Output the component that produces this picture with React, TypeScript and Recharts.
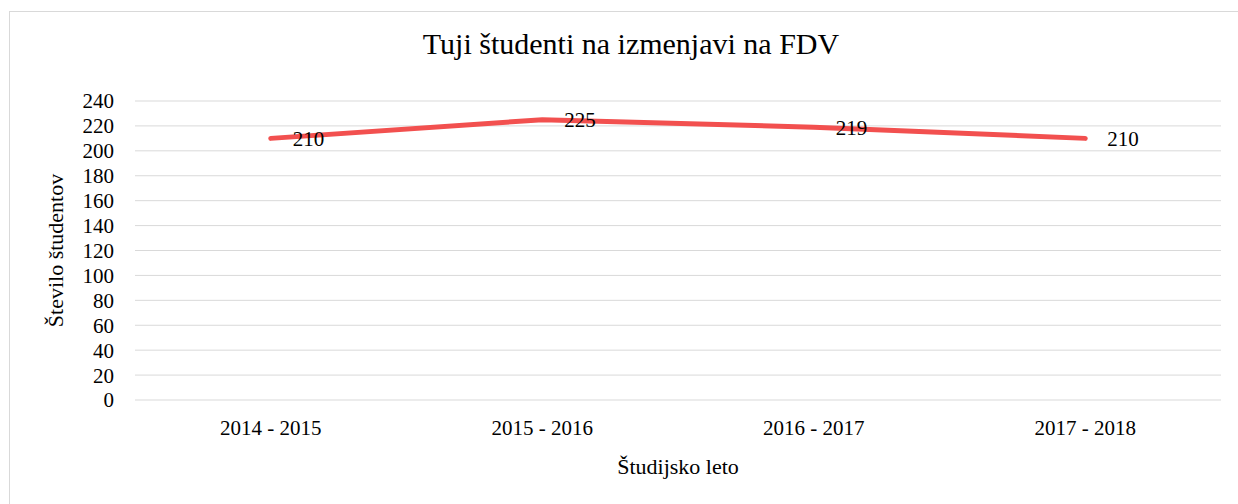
import React from "react"
import { LineChart, Line, XAxis, YAxis, CartesianGrid, LabelList, Label } from "recharts"

const years = ["2014 - 2015", "2015 - 2016", "2016 - 2017", "2017 - 2018"]
const students = [210, 225, 219, 210]
const yTicks = [0, 20, 40, 60, 80, 100, 120, 140, 160, 180, 200, 220, 240]

const data = years.map((year, i) => ({ year, students: students[i] }))

const font = "'Liberation Serif', 'DejaVu Serif', serif"

function RightLabel(props: any) {
  const { x, y, value } = props
  return (
    <text x={x + 22} y={y} dy="0.35em" textAnchor="start" fontSize={21} fill="#000" fontFamily={font}>
      {value}
    </text>
  )
}

export default function App() {
  return (
    <div style={{ position: "fixed", left: 0, top: 0, width: 1238, height: 504, overflow: "hidden", background: "#fff" }}>
      <div
        style={{
          position: "absolute",
          left: 9,
          top: 11,
          width: 1260,
          height: 520,
          border: "1px solid #d9d9d9",
          boxSizing: "border-box",
        }}
      />
      <div
        style={{
          position: "absolute",
          left: 11,
          top: 27,
          width: 1240,
          textAlign: "center",
          fontFamily: font,
          fontSize: 30,
          color: "#000",
        }}
      >
        Tuji študenti na izmenjavi na FDV
      </div>
      <div style={{ position: "absolute", left: 0, top: 0 }}>
        <LineChart width={1238} height={504} data={data} margin={{ top: 101, right: 17, bottom: 0, left: 0 }}>
          <CartesianGrid vertical={false} stroke="#d9d9d9" strokeWidth={1} />
          <XAxis
            dataKey="year"
            axisLine={false}
            tickLine={false}
            tickSize={0}
            tickMargin={20}
            height={104}
            padding={{ left: 135.75, right: 135.75 }}
            tick={{ fontSize: 21, fill: "#000", fontFamily: font }}
          >
            <Label
              value="Študijsko leto"
              position="insideBottom"
              offset={30}
              style={{ fontSize: 22, fill: "#000", fontFamily: font }}
            />
          </XAxis>
          <YAxis
            domain={[0, 240]}
            ticks={yTicks}
            interval={0}
            axisLine={false}
            tickLine={false}
            tickSize={0}
            tickMargin={21}
            width={135}
            tick={{ fontSize: 21, fill: "#000", fontFamily: font }}
          >
            <Label
              value="Število študentov"
              angle={-90}
              position="insideLeft"
              offset={55}
              style={{ fontSize: 22, fill: "#000", fontFamily: font, textAnchor: "middle" }}
            />
          </YAxis>
          <Line
            type="linear"
            dataKey="students"
            stroke="#F2504F"
            strokeWidth={5}
            strokeLinecap="round"
            dot={false}
            activeDot={false}
            isAnimationActive={false}
          >
            <LabelList dataKey="students" content={<RightLabel />} />
          </Line>
        </LineChart>
      </div>
    </div>
  )
}
